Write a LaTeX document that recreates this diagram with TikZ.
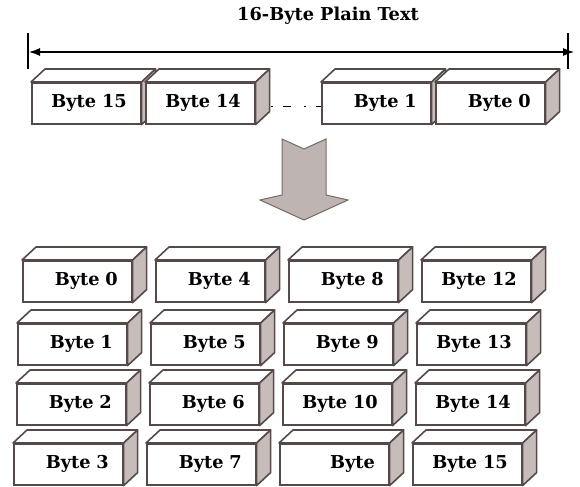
\documentclass[tikz,border=0pt]{standalone}
\usepackage{fontspec}
\setmainfont{DejaVu Serif}
\usetikzlibrary{arrows.meta,calc}

\definecolor{boxline}{HTML}{554A4A}
\definecolor{boxside}{HTML}{C6BCBA}
\definecolor{bigarrow}{HTML}{BEB4B2}
\definecolor{bigarrowline}{HTML}{766A68}

\newcommand{\bytefont}{\fontsize{17.8}{20}\selectfont\bfseries}

% top face and right face of a brick, hung on the front node
\newcommand{\brickfaces}[1]{%
  \draw[face,fill=white] (#1.north west) -- ++(14,-13)
    -- ([shift={(14,-13)}]#1.north east) -- (#1.north east) -- cycle;
  \draw[face,fill=boxside] (#1.north east) -- ++(14,-13)
    -- ([shift={(14,-13)}]#1.south east) -- (#1.south east) -- cycle;}

\begin{document}
\begin{tikzpicture}[x=1bp,y=-1bp,
face/.style={draw=boxline,line width=1.6bp,line join=round},
byte/.style={draw=boxline,line width=1.6bp,fill=white,anchor=north west,
  minimum height=41bp,text width=81bp,inner xsep=14bp,inner ysep=0pt,
  align=right,font=\bytefont},
span/.style={line width=1.2bp,{Latex[length=11bp,width=8bp]}-{Latex[length=11bp,width=8bp]}}]
\useasboundingbox (0,0) rectangle (580,487);

% the plain text block
\node[font=\bytefont] (title) at (328,16) {16-Byte Plain Text};
\draw[line width=1.1bp] (28,33) -- (28,69);
\draw[line width=1.1bp] (568,33) -- (568,69);
\coordinate (spanL) at (29,52);
\coordinate (spanR) at (574,52);
\draw[span] (spanL) -- (spanR);

\foreach \n/\x/\b in {T15/31/15,T14/145/14,T1/321/1,T0/435/0} {
  \node[byte] (\n) at (\x,82) {Byte \b};
  \brickfaces{\n}
}
\draw[line width=1.4bp,dash pattern=on 2bp off 10bp on 8bp off 13bp]
  ([xshift=15bp,yshift=-3bp]T14.east) -- ([yshift=-3bp]T1.west);

% down arrow
\draw[fill=bigarrow,draw=bigarrowline,line width=1bp,line join=miter]
  (282,139) -- (304,149) -- (326,139) -- (326,195) -- (348,200)
  -- (304,220) -- (260,200) -- (282,195) -- cycle;

% the 4x4 state, filled column by column
\foreach \r/\y/\x in {0/260/22,1/323/17,2/383/16,3/443/13}
  \foreach \c in {0,...,3} {
    \pgfmathtruncatemacro\k{4*\c+\r}
    \node[byte] (B\k) at (\x+133*\c,\y) {Byte \ifnum\k=11 \else\k\fi};
    \brickfaces{B\k}
  }
\end{tikzpicture}
\end{document}
